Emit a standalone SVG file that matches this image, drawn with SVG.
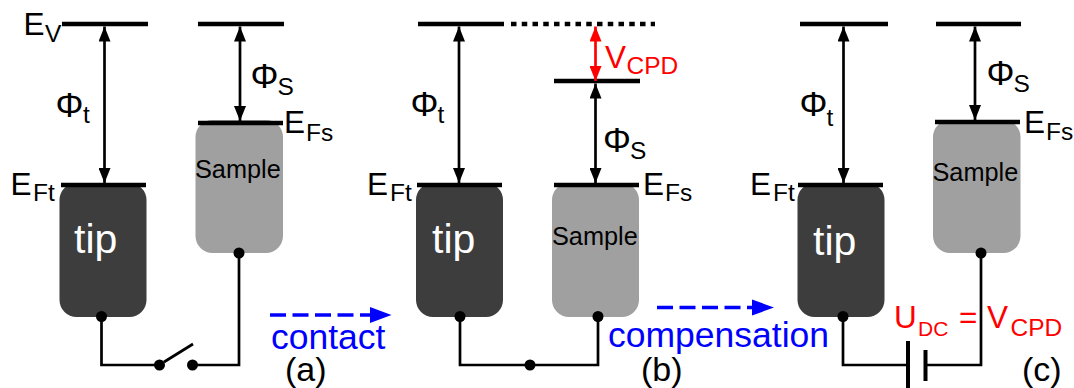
<svg xmlns="http://www.w3.org/2000/svg" width="1074" height="388" viewBox="0 0 1074 388">
<style>
text{font-family:"Liberation Sans",Arial,sans-serif;fill:#000}
.lv{stroke:#000;stroke-width:4.5;fill:none}
.dot{fill:#000}
.w{stroke:#000;stroke-width:2.700;fill:none}
.pl{stroke:#000;stroke-width:4;fill:none}
.ar{stroke:#000;stroke-width:2.700;fill:none;marker-start:url(#hs);marker-end:url(#he)}
.r{stroke:#f00;stroke-width:2.700;fill:none;marker-start:url(#rs);marker-end:url(#re)}
.b{stroke:#00f;stroke-width:3.500;fill:none;stroke-dasharray:16 6.500}
.tip{fill:#3d3d3d}.sam{fill:#a0a0a0}
.tt{fill:#fff;font-size:41px}.st{font-size:25.300px}
.m{font-size:31.500px}.p{font-size:35px}.s{font-size:24.500px}
.red{fill:#f00}.blue{fill:#00f}.lab{font-size:34px}
</style>
<defs>
<marker id="he" markerUnits="userSpaceOnUse" markerWidth="15" markerHeight="12" refX="15" refY="6" viewBox="0 0 15 12" orient="auto"><path d="M0 0L15 6L0 12Z" fill="#000"/></marker>
<marker id="hs" markerUnits="userSpaceOnUse" markerWidth="15" markerHeight="12" refX="0" refY="6" viewBox="0 0 15 12" orient="auto"><path d="M15 0L0 6L15 12Z" fill="#000"/></marker>
<marker id="re" markerUnits="userSpaceOnUse" markerWidth="15" markerHeight="12" refX="15" refY="6" viewBox="0 0 15 12" orient="auto"><path d="M0 0L15 6L0 12Z" fill="#f00"/></marker>
<marker id="rs" markerUnits="userSpaceOnUse" markerWidth="15" markerHeight="12" refX="0" refY="6" viewBox="0 0 15 12" orient="auto"><path d="M15 0L0 6L15 12Z" fill="#f00"/></marker>
</defs>
<g id="tip-a"><rect class="tip" x="59.500" y="183" width="87" height="134" rx="17"/><text class="tt" x="74" y="253">tip</text></g>
<g id="sample-a"><rect class="sam" x="195.500" y="120" width="87.500" height="133" rx="17"/><text class="st" x="195" y="178">Sample</text></g>
<g id="tip-b"><rect class="tip" x="416" y="183" width="87" height="134" rx="17"/><text class="tt" x="432" y="252.500">tip</text></g>
<g id="sample-b"><rect class="sam" x="552" y="183" width="87" height="134" rx="17"/><text class="st" x="552" y="245">Sample</text></g>
<g id="tip-c"><rect class="tip" x="797.500" y="183" width="87" height="134" rx="17"/><text class="tt" x="813" y="255">tip</text></g>
<g id="sample-c"><rect class="sam" x="933" y="120" width="87.500" height="133" rx="17"/><text class="st" x="932.500" y="181">Sample</text></g>
<g id="levels">
<path class="lv" d="M62 24H148M198 24H284M198 123H283M61 185H146M418 24H504M554 81H640M554 185H639M417 185H502M800 24H888M936 24H1021M935 122H1020M798 185H883"/>
<path class="lv" d="M511 24H655" stroke-dasharray="5.500 5.250"/>
</g>
<g id="connectors">
<path class="ar" d="M104.500 26.500V183"/>
<path class="ar" d="M240 26.500V121"/>
<path class="ar" d="M459 26.500V183"/>
<path class="ar" d="M595.500 83.500V183"/>
<path class="r" d="M595.500 26.500V81"/>
<path class="ar" d="M843.500 26.500V183"/>
<path class="ar" d="M975 26.500V120"/>
<path class="w" d="M101.500 316.500V365H159M192.500 365H239V253M164 362L193 344"/>
<path class="w" d="M460 316.500V365H598V316.500"/>
<path class="w" d="M843 316.500V365H908M925.500 365H981V253"/>
<path class="pl" d="M908 341V388M925.500 350V381"/>
<circle class="dot" cx="101.500" cy="316.500" r="5.500"/><circle class="dot" cx="239" cy="253" r="5.500"/>
<circle class="dot" cx="159.500" cy="365" r="5.500"/><circle class="dot" cx="192.500" cy="365" r="5.500"/>
<circle class="dot" cx="460" cy="316.500" r="5.500"/><circle class="dot" cx="598" cy="316.500" r="5.500"/><circle class="dot" cx="530" cy="365" r="5.500"/>
<circle class="dot" cx="843" cy="316.500" r="5.500"/><circle class="dot" cx="981" cy="253" r="5.500"/>
<path class="b" d="M270 315H372"/><path d="M370 307L391.500 315L370 323Z" fill="#00f"/>
<path class="b" d="M657 307.500H754"/><path d="M752 299.500L774 307.500L752 315.500Z" fill="#00f"/>
</g>
<g id="labels">
<text class="m" x="23.500" y="35">E</text><text class="s" x="45" y="42">V</text>
<text class="m" x="10.500" y="195">E</text><text class="s" x="33" y="201">Ft</text>
<text class="p" x="55.500" y="117">Φ</text><text class="s" x="83" y="123">t</text>
<text class="p" x="250.500" y="88">Φ</text><text class="s" x="277.500" y="95">S</text>
<text class="m" x="284" y="133">E</text><text class="s" x="306" y="141">Fs</text>
<text class="p" x="410.500" y="116">Φ</text><text class="s" x="437.500" y="123">t</text>
<text class="m" x="367" y="195">E</text><text class="s" x="390" y="201">Ft</text>
<text class="m" style="fill:#f00" x="605" y="68">V</text><text class="s" style="fill:#f00" x="626.500" y="74">CPD</text>
<text class="p" x="603" y="152">Φ</text><text class="s" x="630" y="159">S</text>
<text class="m" x="643" y="195">E</text><text class="s" x="665" y="201">Fs</text>
<text class="p" x="799.500" y="116">Φ</text><text class="s" x="826.500" y="126">t</text>
<text class="p" x="986.500" y="85">Φ</text><text class="s" x="1013.500" y="92">S</text>
<text class="m" x="750" y="195">E</text><text class="s" x="773" y="201">Ft</text>
<text class="m" x="1024" y="133">E</text><text class="s" x="1046" y="140">Fs</text>
<text class="m" style="fill:#f00" x="894" y="328">U</text><text style="fill:#f00;font-size:21px" x="918" y="335.500">DC</text>
<text class="m" style="fill:#f00" x="959" y="328">=</text>
<text class="m" style="fill:#f00" x="987" y="328">V</text><text class="s" style="fill:#f00" x="1010.500" y="335.500">CPD</text>
<text style="fill:#00f;font-size:35.500px" x="271" y="349">contact</text>
<text style="fill:#00f;font-size:35.500px" x="608" y="346.500">compensation</text>
<text class="lab" x="285" y="381">(a)</text>
<text class="lab" x="641" y="381">(b)</text>
<text class="lab" x="1022" y="381">(c)</text>
</g>
</svg>
